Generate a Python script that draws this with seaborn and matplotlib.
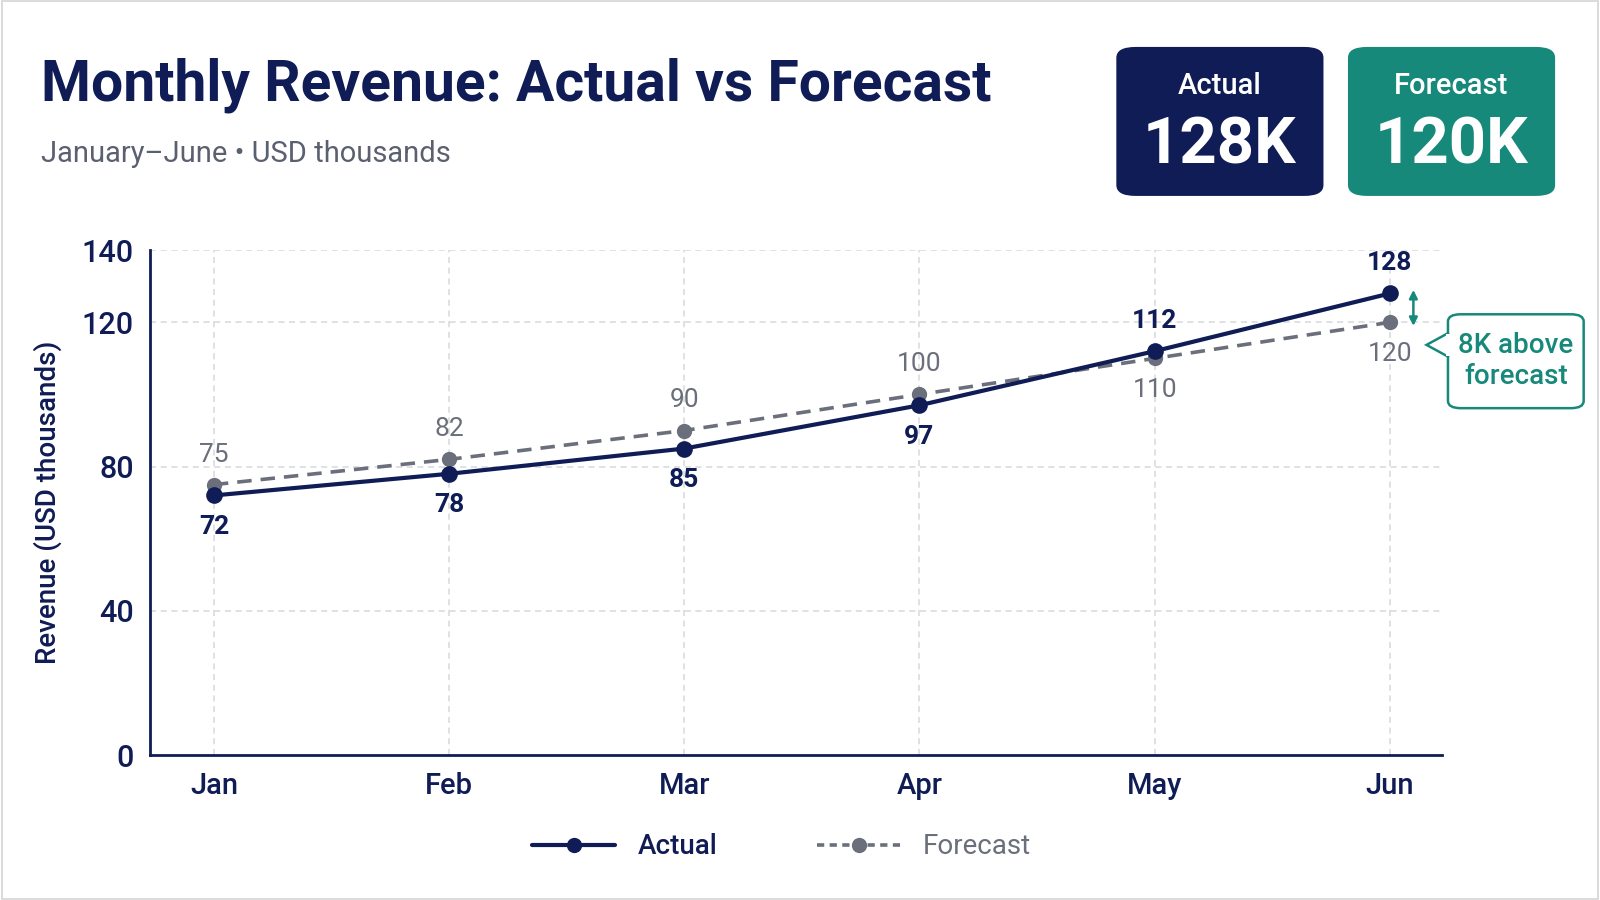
import numpy as np
import pandas as pd
import seaborn as sns
import matplotlib.pyplot as plt
from matplotlib.patches import FancyBboxPatch, Polygon, Rectangle
from matplotlib.lines import Line2D

months = ["Jan", "Feb", "Mar", "Apr", "May", "Jun"]
actual = [72, 78, 85, 97, 112, 128]
forecast = [75, 82, 90, 100, 110, 120]
y_ticks = [0, 40, 80, 120, 140]

NAVY = "#0f1c55"
GRAY = "#6b6f7b"
TEAL = "#17897a"
GRID = "#d6d8dc"
TXT_GRAY = "#5a6070"

sns.set_theme(style="white")
plt.rcParams["font.family"] = ["Roboto", "DejaVu Sans"]

df = pd.DataFrame({
    "Month": months * 2,
    "Revenue": actual + forecast,
    "Series": ["Actual"] * 6 + ["Forecast"] * 6,
})
df["x"] = list(range(6)) * 2

fig = plt.figure(figsize=(16, 9), dpi=100)
fig.patch.set_facecolor("white")
ax = fig.add_axes([0.094, 0.161, 0.807, 0.561])

sns.lineplot(data=df[df.Series == "Forecast"], x="x", y="Revenue", ax=ax,
             color=GRAY, linewidth=2.6, linestyle=(0, (4, 2.5)), marker="o",
             markersize=11, markeredgewidth=0, legend=False)
sns.lineplot(data=df[df.Series == "Actual"], x="x", y="Revenue", ax=ax,
             color=NAVY, linewidth=3.0, marker="o", markersize=12,
             markeredgewidth=0, legend=False)

ax.set_xlim(-0.27, 5.22)
ax.set_ylim(0, 140)
ax.set_yticks(y_ticks)
ax.set_xticks(range(6))
ax.set_xticklabels(months)
ax.tick_params(axis="y", length=0, labelsize=22, labelcolor=NAVY, pad=12)
ax.tick_params(axis="x", length=0, labelsize=21, labelcolor=NAVY, pad=12)
ax.set_xlabel("")
ax.set_ylabel("Revenue (USD thousands)", fontsize=20, color=NAVY, labelpad=14,
              fontweight="medium")
for t in ax.get_xticklabels() + ax.get_yticklabels():
    t.set_fontweight("medium")

for v in [40, 80, 120, 140]:
    ax.axhline(v, color=GRID, linestyle=(0, (4, 3)), linewidth=1.1, zorder=0)
for i in range(6):
    ax.axvline(i, color=GRID, linestyle=(0, (4, 3)), linewidth=1.1, zorder=0)

for s in ["top", "right"]:
    ax.spines[s].set_visible(False)
for s in ["left", "bottom"]:
    ax.spines[s].set_color(NAVY)
    ax.spines[s].set_linewidth(2)

# value labels
for i, (a, f) in enumerate(zip(actual, forecast)):
    if a < f:
        ax.annotate(str(a), (i, a), xytext=(0, -14), textcoords="offset points",
                    ha="center", va="top", fontsize=19, fontweight="bold", color=NAVY)
        ax.annotate(str(f), (i, f), xytext=(0, 13), textcoords="offset points",
                    ha="center", va="bottom", fontsize=19, color=GRAY)
    else:
        ax.annotate(str(a), (i, a), xytext=(0, 13), textcoords="offset points",
                    ha="center", va="bottom", fontsize=19, fontweight="bold", color=NAVY)
        ax.annotate(str(f), (i, f), xytext=(0, -14), textcoords="offset points",
                    ha="center", va="top", fontsize=19, color=GRAY)

# double arrow for gap
ax.annotate("", xy=(5.1, actual[-1] + 1), xytext=(5.1, forecast[-1] - 1),
            arrowprops=dict(arrowstyle="<|-|>", color=TEAL, lw=1.8,
                            mutation_scale=12, shrinkA=0, shrinkB=0),
            annotation_clip=False)

# callout box (figure coords)
W, H = 1568.0, 882.0
def fx(px): return px / W
def fy(py): return 1 - py / H

box = FancyBboxPatch((fx(1419), fy(400)), fx(1552) - fx(1419), fy(308) - fy(400),
                     boxstyle="round,pad=0,rounding_size=0.008",
                     transform=fig.transFigure, facecolor="white",
                     edgecolor=TEAL, linewidth=1.8, zorder=5)
fig.patches.append(box)
tri = Polygon([[fx(1420), fy(326)], [fx(1398), fy(338)], [fx(1420), fy(350)]],
              closed=False, transform=fig.transFigure, facecolor="white",
              edgecolor=TEAL, linewidth=1.8, zorder=6)
fig.patches.append(tri)
fig.patches.append(Rectangle((fx(1417), fy(349)), fx(1423) - fx(1417), fy(327) - fy(349),
                             transform=fig.transFigure, facecolor="white",
                             edgecolor="none", zorder=7))
fig.text(fx(1485.5), fy(354), "8K above\nforecast", ha="center", va="center",
         fontsize=20, color=TEAL, fontweight="medium", linespacing=1.2, zorder=8)

# title
fig.text(fx(40), fy(84), "Monthly Revenue: Actual vs Forecast", ha="left", va="center",
         fontsize=41, fontweight="bold", color=NAVY)
fig.text(fx(40), fy(151), "January\u2013June \u2022 USD thousands", ha="left", va="center",
         fontsize=21, color=TXT_GRAY)

# KPI cards
def card(x0, x1, color, label, value):
    p = FancyBboxPatch((fx(x0), fy(192)), fx(x1) - fx(x0), fy(46) - fy(192),
                       boxstyle="round,pad=0,rounding_size=0.012",
                       transform=fig.transFigure, facecolor=color, edgecolor="none")
    fig.patches.append(p)
    cx = fx((x0 + x1) / 2)
    fig.text(cx, fy(84), label, ha="center", va="center", fontsize=21,
             color="white", fontweight="medium")
    fig.text(cx, fy(143), value, ha="center", va="center", fontsize=47,
             color="white", fontweight="bold")

card(1094, 1297, NAVY, "Actual", f"{actual[-1]}K")
card(1321, 1524, TEAL, "Forecast", f"{forecast[-1]}K")

# legend
handles = [
    Line2D([], [], color=NAVY, lw=3, marker="o", markersize=11, markeredgewidth=0),
    Line2D([], [], color=GRAY, lw=2.6, linestyle=(0, (2, 1.5)), marker="o",
           markersize=11, markeredgewidth=0),
]
leg = fig.legend(handles, ["Actual", "Forecast"], loc="center",
                 bbox_to_anchor=(fx(766), fy(830)), ncol=2, frameon=False,
                 fontsize=20, handlelength=3.0, columnspacing=3.6, handletextpad=0.8)
for t, c in zip(leg.get_texts(), [NAVY, GRAY]):
    t.set_color(c)
leg.get_texts()[0].set_fontweight("medium")

# figure border
fig.patches.append(Rectangle((0.001, 0.001), 0.998, 0.998, transform=fig.transFigure,
                             facecolor="none", edgecolor="#d4d4d4", linewidth=1.2))

fig.savefig("out.png", dpi=100, facecolor="white")
